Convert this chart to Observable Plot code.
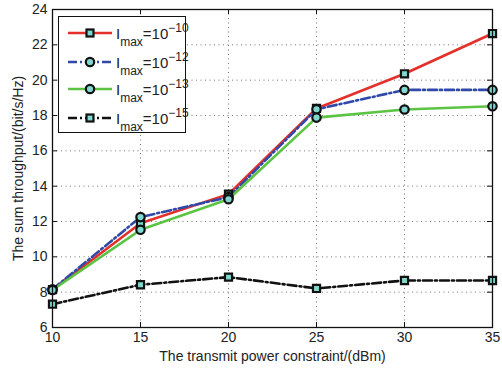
<!DOCTYPE html>
<html><head><meta charset="utf-8">
<script src="https://cdn.jsdelivr.net/npm/d3@7"></script>
<script src="https://cdn.jsdelivr.net/npm/@observablehq/plot@0.6"></script>
<style>
body{margin:0;background:#fff;font-family:"Liberation Sans",Arial,sans-serif;}
#wrap{position:relative;width:502px;height:369px;}
#legend{position:absolute;left:58px;top:16px;width:126px;height:115px;border:1.5px solid #111;background:#fff;}
.row{position:absolute;left:0;height:28px;width:126px;}
.row svg{position:absolute;left:8px;top:0;}
.lab{position:absolute;left:57px;top:2px;font-size:15px;color:#222;white-space:nowrap;}
.lab sub{font-size:12px;vertical-align:-7px;}
.lab sup{font-size:12px;vertical-align:7px;}
</style></head>
<body><div id="wrap"></div>
<script>
const power = [10, 15, 20, 25, 30, 35];
const seriesNames = ["-10", "-12", "-13", "-15"];
const imax10 = [8.14, 11.9, 13.55, 18.4, 20.36, 22.64];
const imax12 = [8.16, 12.25, 13.38, 18.35, 19.45, 19.45];
const imax13 = [8.12, 11.53, 13.26, 17.88, 18.34, 18.52];
const imax15 = [7.32, 8.42, 8.85, 8.21, 8.66, 8.66];
const xTicks = [10, 15, 20, 25, 30, 35];
const yTicks = [6, 8, 10, 12, 14, 16, 18, 20, 22, 24];

const styles = [
  {color: "#e3302a", dash: null, symbol: "square"},
  {color: "#3049a8", dash: "9,3,2,3", symbol: "circle"},
  {color: "#5cc444", dash: null, symbol: "circle"},
  {color: "#111111", dash: "9,3,2,3", symbol: "square"}
];
const allSeries = [imax10, imax12, imax13, imax15];
const data = allSeries.map((vals, i) => power.map((p, j) => ({p, v: vals[j], s: i})));

const W = 502, H = 369, mL = 52, mR = 10, mT = 9, mB = 42;
const fh = H - mT - mB, fw = W - mL - mR;
const marks = [
  Plot.gridX(xTicks, {stroke: "#555", strokeOpacity: 0.8, strokeDasharray: "1,3.5", strokeWidth: 1}),
  Plot.gridY(yTicks, {stroke: "#555", strokeOpacity: 0.8, strokeDasharray: "1,3.5", strokeWidth: 1}),
  Plot.tickX(xTicks, {x: d => d, insetTop: fh - 5, stroke: "#111"}),
  Plot.tickX(xTicks, {x: d => d, insetBottom: fh - 5, stroke: "#111"}),
  Plot.tickY(yTicks, {y: d => d, insetRight: fw - 5, stroke: "#111"}),
  Plot.tickY(yTicks, {y: d => d, insetLeft: fw - 5, stroke: "#111"}),
  Plot.axisX(xTicks, {tickSize: 0, tickPadding: 5, fontSize: 14, fill: "#222", label: null}),
  Plot.axisY(yTicks, {tickSize: 0, tickPadding: 5, fontSize: 14, fill: "#222", label: null})
];
data.forEach((d, i) => {
  const st = styles[i];
  marks.push(Plot.line(d, {x: "p", y: "v", stroke: st.color, strokeWidth: 2.6, strokeDasharray: st.dash}));
});
data.forEach((d, i) => {
  const st = styles[i];
  marks.push(Plot.dot(d, {x: "p", y: "v", symbol: () => st.symbol, r: st.symbol === "square" ? 4 : 4.2, fill: "#80d8d0", stroke: "#111", strokeWidth: 2.2}));
});
marks.push(Plot.frame({stroke: "#111", strokeWidth: 1.3}));
marks.push(Plot.text(["The transmit power constraint/(dBm)"], {frameAnchor: "bottom", dy: 33, fontSize: 14, fill: "#222", text: d => d}));
marks.push(Plot.text(["The sum throughput/(bit/s/Hz)"], {frameAnchor: "left", dx: -34, rotate: -90, textAnchor: "middle", fontSize: 14, fill: "#222", text: d => d}));

const chart = Plot.plot({
  width: W, height: H, marginLeft: mL, marginRight: mR, marginTop: mT, marginBottom: mB,
  x: {domain: [10, 35]},
  y: {domain: [6, 24]},
  style: {fontFamily: "'Liberation Sans', Arial, sans-serif", background: "#fff", overflow: "visible"},
  marks
});
const wrap = document.getElementById("wrap");
wrap.appendChild(chart);

// legend
const leg = document.createElement("div");
leg.id = "legend";
const rowTops = [2, 31, 58, 87];
styles.forEach((st, i) => {
  const row = document.createElement("div");
  row.className = "row";
  row.style.top = rowTops[i] + "px";
  const svg = d3.create("svg").attr("width", 46).attr("height", 28);
  svg.append("line").attr("x1", 1).attr("x2", 45).attr("y1", 14).attr("y2", 14)
    .attr("stroke", st.color).attr("stroke-width", 2.6).attr("stroke-dasharray", st.dash);
  if (st.symbol === "square") {
    svg.append("rect").attr("x", 19.5).attr("y", 10.5).attr("width", 7).attr("height", 7)
      .attr("fill", "#80d8d0").attr("stroke", "#111").attr("stroke-width", 2.2);
  } else {
    svg.append("circle").attr("cx", 23).attr("cy", 14).attr("r", 4.2)
      .attr("fill", "#80d8d0").attr("stroke", "#111").attr("stroke-width", 2.2);
  }
  row.appendChild(svg.node());
  const lab = document.createElement("div");
  lab.className = "lab";
  lab.innerHTML = "I<sub>max</sub>=10<sup>\u2212" + seriesNames[i].slice(1) + "</sup>";
  row.appendChild(lab);
  leg.appendChild(row);
});
wrap.appendChild(leg);
</script></body></html>
